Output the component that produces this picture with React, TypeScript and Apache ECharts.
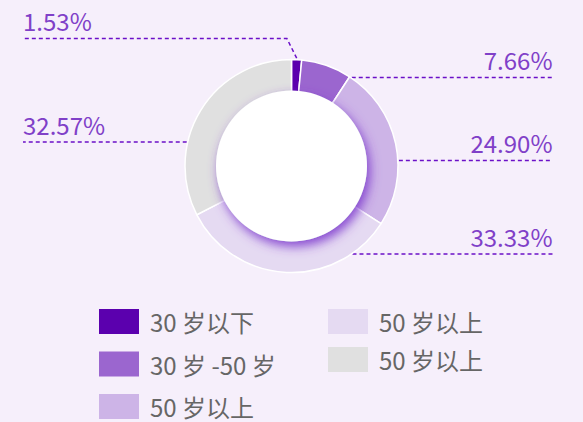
import React, { useEffect, useRef } from 'react';
import * as echarts from 'echarts';

// ---- data ----
const categories = ['30 岁以下', '30 岁 -50 岁', '50 岁以上', '50 岁以上', '50 岁以上'];
const shares = [1.53, 7.66, 24.9, 33.33, 32.57];
const sliceColors = ['#5b00ae', '#9b66cf', '#cdb4e7', '#e5daf2', '#e0e0e0'];
const legendColumnA = [0, 1, 2];
const legendColumnB = [3, 4];

// ---- layout ----
const W = 583;
const H = 422;
const CX = 291.5;
const CY = 166;
const R_OUT = 106.5;
const R_IN = 74;
const R_HOLE = 75.5;
const LEFT_EDGE = 23;
const RIGHT_EDGE = 30.5;
const labelSlots = [
  { side: 'left', lineY: 38.5 },
  { side: 'right', lineY: 77.5 },
  { side: 'right', lineY: 160.5 },
  { side: 'right', lineY: 254 },
  { side: 'left', lineY: 142 },
];
const FONT = '"Noto Sans CJK SC", "Noto Sans", sans-serif';

const idOf = (i: number) => 'item' + i;
const indexOf = (name: string) => Number(String(name).replace('item', ''));

export default function App() {
  const ref = useRef<HTMLDivElement>(null);

  useEffect(() => {
    if (!ref.current) return;
    const chart = echarts.init(ref.current, undefined, { renderer: 'svg' });
    const total = shares.reduce((a, b) => a + b, 0);

    const labelLayout = (p: any) => {
      const i = p.dataIndex;
      const slot = labelSlots[i];
      const left = slot.side === 'left';
      const edgeX = left ? LEFT_EDGE : W - RIGHT_EDGE;
      const dy = slot.lineY - CY;
      let pts: number[][];
      if (Math.abs(dy) < R_OUT) {
        const dx = Math.sqrt(R_OUT * R_OUT - dy * dy) + 1;
        const sx = left ? CX - dx : CX + dx;
        pts = [[sx, slot.lineY], [sx, slot.lineY], [edgeX, slot.lineY]];
      } else {
        let before = 0;
        for (let k = 0; k < i; k++) before += shares[k];
        const mid = ((before + shares[i] / 2) / total) * Math.PI * 2;
        const rr = R_OUT + 1.5;
        const sx = CX + rr * Math.sin(mid);
        const sy = CY - rr * Math.cos(mid);
        const ex = sx + (left ? -1 : 1) * 0.5 * Math.abs(sy - slot.lineY);
        pts = [[sx, sy], [ex, slot.lineY], [edgeX, slot.lineY]];
      }
      return {
        x: edgeX,
        y: slot.lineY - 6,
        align: left ? 'left' : 'right',
        verticalAlign: 'bottom',
        labelLinePoints: pts,
      };
    };

    const legendBase = {
      orient: 'vertical',
      icon: 'rect',
      padding: 0,
      height: 160,
      itemWidth: 40,
      itemHeight: 25,
      itemStyle: { borderWidth: 0 },
      formatter: (name: string) => categories[indexOf(name)],
      textStyle: {
        fontSize: 24,
        color: '#666666',
        fontFamily: FONT,
        padding: [0, 0, 0, 6],
      },
      selectedMode: false,
    };

    chart.setOption({
      animation: false,
      backgroundColor: '#f6effb',
      legend: [
        { ...legendBase, left: 99, top: 309, itemGap: 17.5, data: legendColumnA.map(idOf) },
        { ...legendBase, left: 328, top: 309, itemGap: 13, data: legendColumnB.map(idOf) },
      ],
      series: [
        {
          type: 'pie',
          center: [CX, CY],
          radius: [R_IN, R_OUT],
          startAngle: 90,
          clockwise: true,
          avoidLabelOverlap: false,
          silent: true,
          itemStyle: { borderColor: '#ffffff', borderWidth: 1.5 },
          label: {
            show: true,
            position: 'outside',
            formatter: (p: any) => shares[p.dataIndex].toFixed(2) + '%',
            fontSize: 24,
            lineHeight: 24,
            color: '#8040c8',
            fontFamily: FONT,
          },
          labelLine: {
            show: true,
            lineStyle: { color: '#6b10c8', width: 1.5, type: [4, 3] },
          },
          labelLayout,
          data: shares.map((v, i) => ({
            name: idOf(i),
            value: v,
            itemStyle: { color: sliceColors[i] },
          })),
          z: 2,
        },
        {
          type: 'pie',
          center: [CX, CY],
          radius: [0, R_HOLE],
          silent: true,
          label: { show: false },
          labelLine: { show: false },
          itemStyle: {
            color: '#ffffff',
            shadowColor: 'rgba(125, 55, 205, 0.9)',
            shadowBlur: 11,
            shadowOffsetX: 3,
            shadowOffsetY: 5,
          },
          data: [{ name: 'hole', value: 1 }],
          z: 3,
        },
      ],
    });

    return () => chart.dispose();
  }, []);

  return (
    <div
      ref={ref}
      style={{ position: 'fixed', left: 0, top: 0, width: W, height: H }}
    />
  );
}
